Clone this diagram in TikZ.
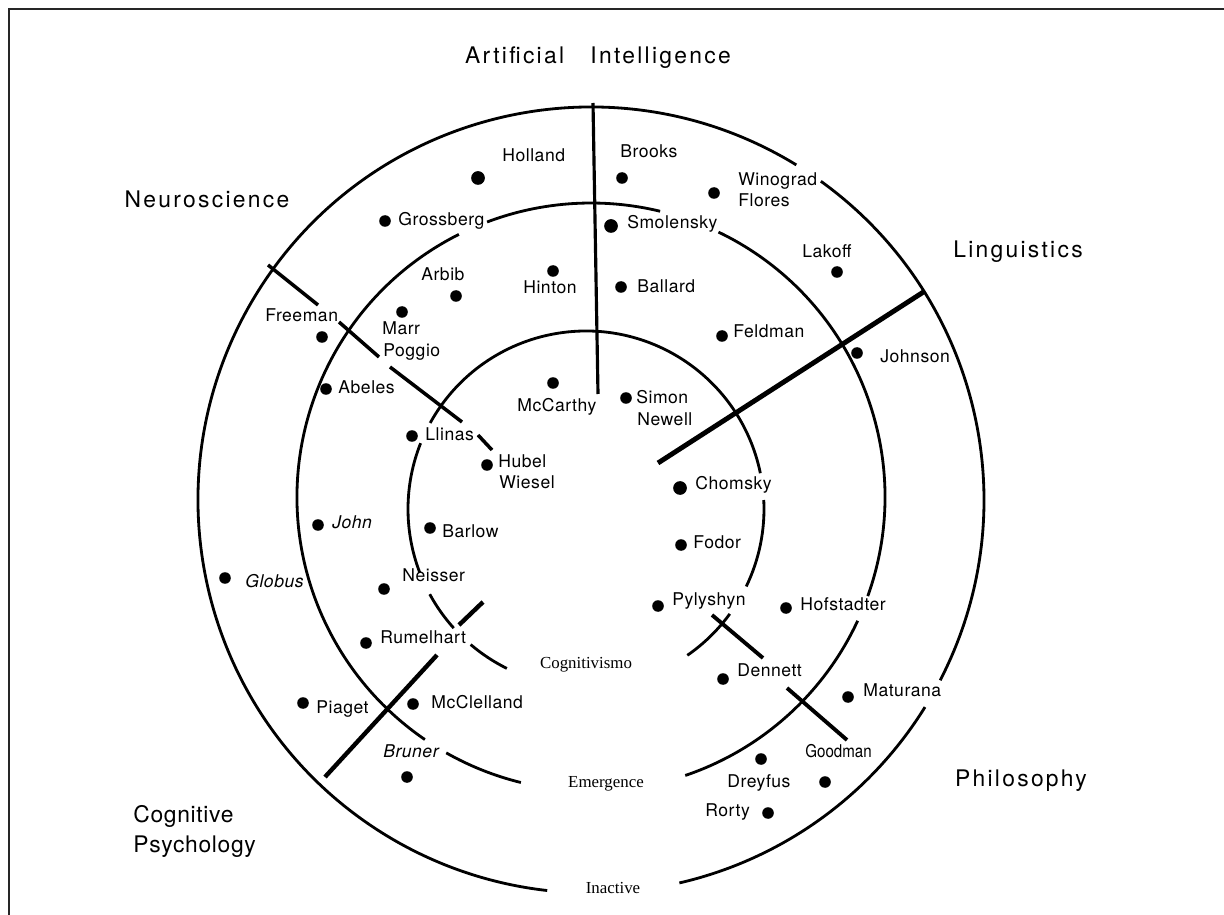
\documentclass[tikz,border=0pt]{standalone}
\usepackage{fontspec}
\setmainfont{Liberation Serif}
\newfontfamily\helv{TeX Gyre Heros}
\begin{document}
\begin{tikzpicture}[x=0.02cm, y=0.02cm,
  ringline/.style={line width=1.6pt},
  divider/.style={line width=2pt},
  authordot/.style={circle, fill=black, inner sep=0pt, minimum size=6.6pt},
  bigauthordot/.style={authordot, minimum size=7.8pt},
  person/.style={font={\helv\fontsize{10}{12}\selectfont\addfontfeature{LetterSpace=3}},
    inner sep=0pt, anchor=west, text height=1.6ex, text depth=.4ex},
  slperson/.style={person, font={\helv\itshape\fontsize{10}{12}\selectfont\addfontfeature{LetterSpace=3}}},
  fieldlabel/.style={font={\helv\fontsize{13}{15}\selectfont\addfontfeature{LetterSpace=10}},
    inner sep=0pt, text height=1.6ex, text depth=.4ex},
  tightfield/.style={fieldlabel, anchor=west,
    font={\helv\fontsize{13}{15}\selectfont\addfontfeature{LetterSpace=3}}},
  tierlabel/.style={font={\fontsize{9.6}{11}\selectfont}, inner sep=0pt},
]
\useasboundingbox (0,0) rectangle (1224,-915);

% frame
\draw[line width=1.2pt, black!85] (9,-915) -- (9,-9) -- (1224,-9);

% ring centres
\coordinate (Co) at (591,-500);
\coordinate (Cm) at (591,-497);
\coordinate (Ci) at (586,-509);

% outer ring
\draw[ringline] (Co) ++(-77:393) arc[start angle=-77, end angle=-31.8, radius=393];
\draw[ringline] (Co) ++(-27.3:393) arc[start angle=-27.3, end angle=54.2, radius=393];
\draw[ringline] (Co) ++(58.5:393) arc[start angle=58.5, end angle=263.6, radius=393];

% middle ring
\draw[ringline] (Cm) ++(-71.3:294) arc[start angle=-71.3, end angle=-24.9, radius=294];
\draw[ringline] (Cm) ++(-19.7:294) arc[start angle=-19.7, end angle=64.3, radius=294];
\draw[ringline] (Cm) ++(76.4:294) arc[start angle=76.4, end angle=110.7, radius=294];
\draw[ringline] (Cm) ++(116.7:294) arc[start angle=116.7, end angle=235.6, radius=294];
\draw[ringline] (Cm) ++(240.5:294) arc[start angle=240.5, end angle=256.2, radius=294];

% inner ring
\draw[ringline] (Ci) ++(11.6:178) arc[start angle=11.6, end angle=151.1, radius=178];
\draw[ringline] (Ci) ++(158.3:178) arc[start angle=158.3, end angle=201, radius=178];
\draw[ringline] (Ci) ++(208.6:178) arc[start angle=208.6, end angle=222, radius=178];
\draw[ringline] (Ci) ++(229.6:178) arc[start angle=229.6, end angle=243.6, radius=178];
\draw[ringline] (Ci) ++(-55.3:178) arc[start angle=-55.3, end angle=-36.1, radius=178];
\draw[ringline] (Ci) ++(-25.8:178) arc[start angle=-25.8, end angle=2.9, radius=178];

% dividing lines between the fields
\draw[divider, line width=1.8pt] (593,-103) -- (598,-394);
\draw[divider, line width=2.8pt] (658,-463) -- (925,-291);
\draw[divider] (268,-265) -- (318,-305) (339,-322) -- (379,-357)
               (390,-367) -- (462,-422) (478,-435) -- (492,-450);
\draw[divider, line width=2.5pt] (483,-602) -- (459,-625) (437,-655) -- (325,-777);
\draw[divider, line width=2.2pt] (712,-615) -- (763,-658) (787,-688) -- (847,-740);

% fields
\node[fieldlabel] (ai) at (598,-59) {Artificial\hspace{15pt}Intelligence};
\node[fieldlabel] (neuro) at (207,-203) {Neuroscience};
\node[fieldlabel] (ling) at (1018,-253) {Linguistics};
\node[fieldlabel] (phil) at (1021,-782) {Philosophy};
\node[tightfield] (cog1) at (133,-818) {Cognitive};
\node[tightfield] (cog2) at (133,-848) {Psychology};

% tiers
\node[tierlabel] (cognitivismo) at (586,-665) {Cognitivismo};
\node[tierlabel] (emergence) at (606,-784) {Emergence};
\node[tierlabel] (inactive) at (613,-888) {Inactive};

% authors
\node[bigauthordot] (holland) at (478,-178) {};
\node[person] (hollandL) at (502,-157) {Holland};
\node[authordot] (brooks) at (622,-178) {};
\node[person] (brooksL) at (620,-153) {Brooks};
\node[authordot] (winograd) at (714,-193) {};
\node[person] (winogradL) at (738,-181) {Winograd};
\node[person] (floresL) at (738,-202) {Flores};
\node[authordot] (grossberg) at (385,-221) {};
\node[person] (grossbergL) at (398,-221) {Grossberg};
\node[bigauthordot] (smolensky) at (611,-226) {};
\node[person] (smolenskyL) at (627,-224) {Smolensky};
\node[authordot] (lakoff) at (837,-272) {};
\node[person] (lakoffL) at (802,-253) {Lakoff};
\node[authordot] (arbib) at (456,-296) {};
\node[person] (arbibL) at (421,-276) {Arbib};
\node[authordot] (hinton) at (553,-271) {};
\node[person] (hintonL) at (523,-289) {Hinton};
\node[authordot] (ballard) at (621,-287) {};
\node[person] (ballardL) at (637,-288) {Ballard};
\node[authordot] (marr) at (402,-312) {};
\node[person] (marrL) at (382,-330) {Marr};
\node[person] (poggioL) at (383,-352) {Poggio};
\node[authordot] (freeman) at (322,-337) {};
\node[person] (freemanL) at (265,-317) {Freeman};
\node[authordot] (feldman) at (722,-336) {};
\node[person] (feldmanL) at (733,-333) {Feldman};
\node[authordot] (johnson) at (857,-353) {};
\node[person] (johnsonL) at (880,-358) {Johnson};
\node[authordot] (abeles) at (326,-389) {};
\node[person] (abelesL) at (338,-389) {Abeles};
\node[authordot] (mccarthy) at (553,-383) {};
\node[person] (mccarthyL) at (517,-407) {McCarthy};
\node[authordot] (simon) at (626,-398) {};
\node[person] (simonL) at (636,-399) {Simon};
\node[person] (newellL) at (637,-421) {Newell};
\node[authordot] (llinas) at (412,-436) {};
\node[person] (llinasL) at (425,-436) {Llinas};
\node[authordot] (hubel) at (487,-465) {};
\node[person] (hubelL) at (498,-463) {Hubel};
\node[person] (wieselL) at (499,-484) {Wiesel};
\node[bigauthordot] (chomsky) at (680,-488) {};
\node[person] (chomskyL) at (695,-485) {Chomsky};
\node[authordot] (barlow) at (430,-528) {};
\node[person] (barlowL) at (442,-533) {Barlow};
\node[authordot] (john) at (318,-525) {};
\node[slperson] (johnL) at (332,-524) {John};
\node[authordot] (fodor) at (681,-545) {};
\node[person] (fodorL) at (693,-544) {Fodor};
\node[authordot] (globus) at (225,-578) {};
\node[slperson] (globusL) at (245,-583) {Globus};
\node[authordot] (neisser) at (384,-589) {};
\node[person] (neisserL) at (402,-577) {Neisser};
\node[authordot] (pylyshyn) at (658,-606) {};
\node[person] (pylyshynL) at (672,-601) {Pylyshyn};
\node[authordot] (hofstadter) at (786,-608) {};
\node[person] (hofstadterL) at (800,-606) {Hofstadter};
\node[authordot] (rumelhart) at (366,-643) {};
\node[person] (rumelhartL) at (380,-639) {Rumelhart};
\node[authordot] (dennett) at (723,-679) {};
\node[person] (dennettL) at (737,-672) {Dennett};
\node[authordot] (maturana) at (848,-697) {};
\node[person] (maturanaL) at (863,-692) {Maturana};
\node[authordot] (piaget) at (303,-703) {};
\node[person] (piagetL) at (316,-709) {Piaget};
\node[authordot] (mcclelland) at (413,-704) {};
\node[person] (mcclellandL) at (431,-704) {McClelland};
\node[authordot] (bruner) at (407,-777) {};
\node[slperson] (brunerL) at (383,-753) {Bruner};
\node[authordot] (goodman) at (825,-782) {};
\node[person, font={\helv\fontsize{10}{12}\selectfont\addfontfeature{FakeStretch=0.86}}]
  (goodmanL) at (805,-753) {Goodman};
\node[authordot] (dreyfus) at (761,-759) {};
\node[person] (dreyfusL) at (727,-783) {Dreyfus};
\node[authordot] (rorty) at (768,-813) {};
\node[person] (rortyL) at (705,-812) {Rorty};
\end{tikzpicture}
\end{document}
